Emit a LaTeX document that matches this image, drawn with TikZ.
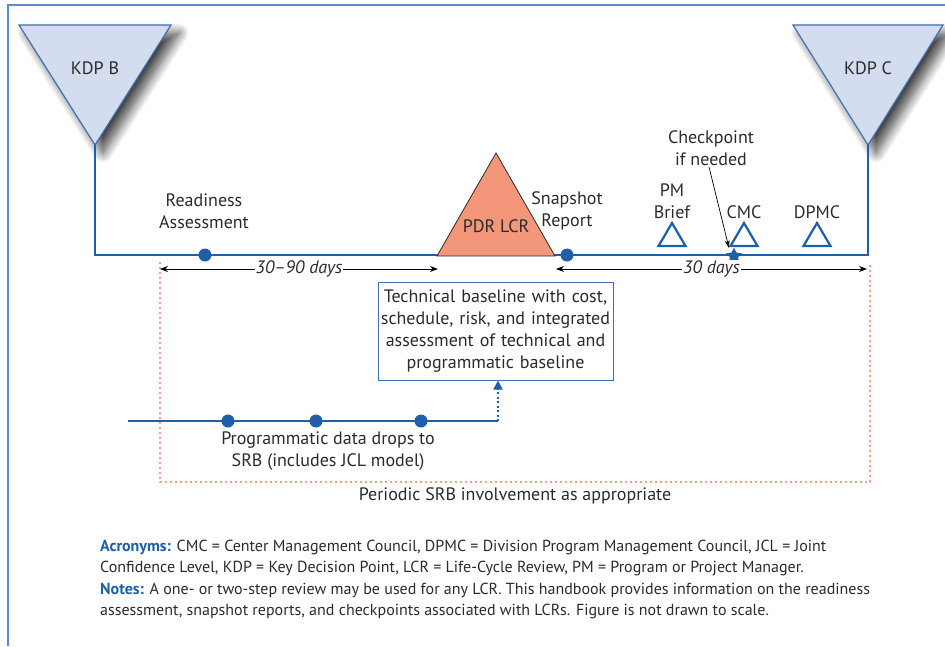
\documentclass[tikz,border=0pt]{standalone}
\usepackage{fontspec}
\setmainfont{PT Sans}
\usetikzlibrary{arrows.meta,shadows.blur,shapes.geometric}
\definecolor{frameblue}{HTML}{5B8AC6}
\definecolor{lineblue}{HTML}{1F5EA8}
\definecolor{kdpfill}{HTML}{D3DDEF}
\definecolor{kdpdraw}{HTML}{3E6FB0}
\definecolor{pdrfill}{HTML}{F39679}
\definecolor{srbdot}{HTML}{F4A287}
\definecolor{txt}{HTML}{2B2B2B}
\begin{document}
\begin{tikzpicture}[x=1pt,y=-1pt,
  lab/.style={font=\fontsize{18}{22}\selectfont, text=txt, align=center, inner sep=0pt},
  kdp/.style={fill=kdpfill, draw=kdpdraw, line width=1.2pt,
     blur shadow={shadow xshift=8pt, shadow yshift=-8pt, shadow blur steps=14, shadow blur radius=10pt, shadow opacity=75}},
  tl/.style={draw=lineblue, line width=2pt},
  dotn/.style={circle, fill=lineblue, minimum size=13pt, inner sep=0pt},
  mini/.style={draw=lineblue, line width=2.2pt, line join=miter},
  dim/.style={draw=black, line width=0.8pt, {Stealth[length=8pt,width=6pt]}-{Stealth[length=8pt,width=6pt]}},
  dimlab/.style={fill=white, inner sep=1pt, text=txt, font=\fontsize{18}{20}\selectfont\itshape},
  srb/.style={draw=srbdot, line width=2pt, dash pattern=on 2pt off 3pt},
  tbox/.style={draw=kdpdraw, line width=1pt, fill=white, minimum width=235pt, minimum height=98pt, text width=232pt,
     align=center, text=txt, font=\fontsize{18}{22}\selectfont, inner sep=0pt},
  notes/.style={font=\fontsize{16}{21}\selectfont, text=txt, align=left, inner sep=0pt, anchor=north west}
]
\useasboundingbox (0,0) rectangle (945,646);
% frame
\draw[draw=frameblue, line width=2pt] (8,646) -- (8,5) -- (945,5);

% KDP triangles
\path[kdp] (19,25) -- (171,25) -- (95,145) -- cycle;
\node[lab] (kdpb) at (95,68) {KDP B};
\path[kdp] (793,25) -- (943,25) -- (868,145) -- cycle;
\node[lab] (kdpc) at (868,68) {KDP C};
\coordinate (tipb) at (95,145);
\coordinate (tipc) at (868,145);
\coordinate (lb) at (95,255);
\coordinate (lc) at (868,255);

% SRB dotted outline
\coordinate (s1) at (160,262);
\coordinate (s2) at (160,482);
\coordinate (s3) at (870,482);
\coordinate (s4) at (870,262);
\draw[srb] (s1) -- (s2) -- (s3) -- (s4);
\node[lab] (periodic) at (515,496) {Periodic SRB involvement as appropriate};

% main timeline
\draw[tl] (tipb) -- (lb) -- (lc) -- (tipc);

% PDR LCR
\path[fill=pdrfill, draw=txt, line width=0.8pt] (437,256) -- (496,153) -- (555,256) -- cycle;
\node[lab] (pdr) at (496,226) {PDR LCR};

% dots and labels
\node[dotn] (ra) at (205,255) {};
\node[lab] (ralab) at (204,211) {Readiness\\Assessment};
\node[dotn] (sr) at (567,255) {};
\node[lab] (srlab) at (567,211) {Snapshot\\Report};

% small triangles
\path[mini] (658.5,246) -- (685.5,246) -- (672,223) -- cycle;
\node[lab] (pm) at (672,201) {PM\\Brief};
\path[mini] (730.5,246) -- (757.5,246) -- (744,223) -- cycle;
\node[lab] (cmc) at (744,212) {CMC};
\path[mini] (803.5,246) -- (830.5,246) -- (817,223) -- cycle;
\node[lab] (dpmc) at (817,212) {DPMC};

% checkpoint
\node[star, star points=5, star point ratio=2.0, fill=lineblue, minimum size=17pt, inner sep=0pt] (cp) at (734,256) {};
\node[lab] (cplab) at (711,148) {Checkpoint\\if needed};
\coordinate (cpfrom) at (709,167);
\draw[line width=0.7pt, -{Stealth[length=8pt,width=5pt]}] (cpfrom) -- (729,248);

% durations
\coordinate (d1) at (160,269);
\coordinate (d2) at (438,269);
\draw[dim] (d1) -- node[dimlab] (d90) {30--90 days} (d2);
\coordinate (d3) at (556,269);
\coordinate (d4) at (867,269);
\draw[dim] (d3) -- node[dimlab, pos=0.5] (d30) {30 days} (d4);

% technical box
\node[tbox] (tb) at (495.5,331) {Technical baseline with cost,\\schedule, risk, and integrated\\assessment of technical and\\programmatic baseline};

% lower timeline
\coordinate (l1) at (128,421);
\coordinate (l2) at (498,421);
\draw[tl] (l1) -- (l2);
\draw[draw=lineblue, line width=2pt, dash pattern=on 2pt off 2.5pt, -{Triangle[length=9pt,width=9pt]}] (l2) -- (l2 |- tb.south);
\node[dotn] (p1) at (228,421) {};
\node[dotn] (p2) at (316,421) {};
\node[dotn] (p3) at (421,421) {};
\node[lab] (plab) at (328,451) {Programmatic data drops to\\SRB (includes JCL model)};

% notes
\node[notes] (acr) at (100,540) {\textcolor{lineblue}{\textbf{Acronyms:}} CMC = Center Management Council, DPMC = Division Program Management Council, JCL = Joint\\Confidence Level, KDP = Key Decision Point, LCR = Life-Cycle Review, PM = Program or Project Manager.};
\node[notes] (nts) at (100,583) {\textcolor{lineblue}{\textbf{Notes:}} A one- or two-step review may be used for any LCR. This handbook provides information on the readiness\\assessment, snapshot reports, and checkpoints associated with LCRs. Figure is not drawn to scale.};
\end{tikzpicture}
\end{document}
